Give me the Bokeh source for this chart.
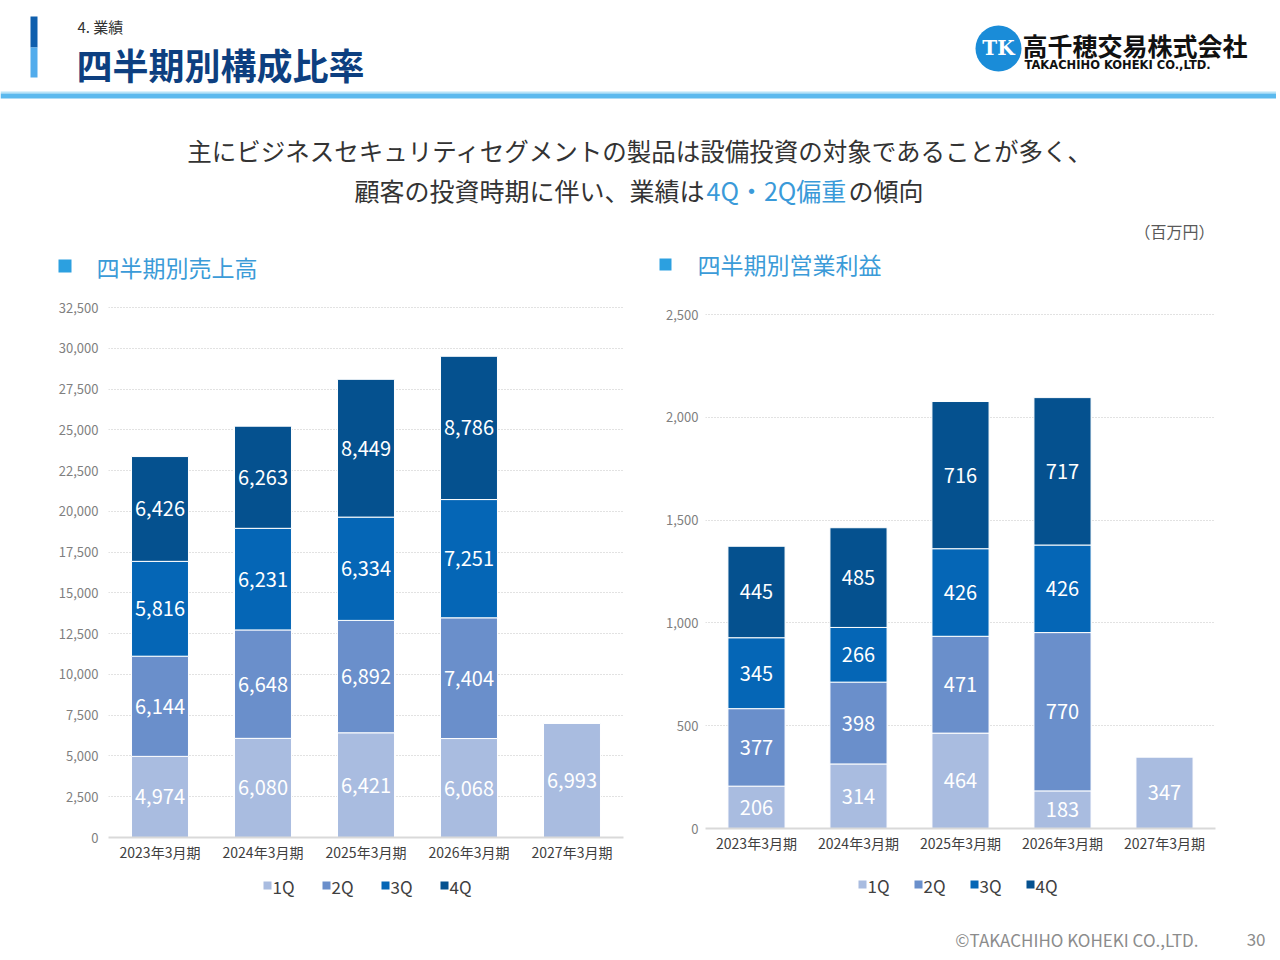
import math
from bokeh.plotting import figure
from bokeh.models import Range1d, FactorRange, ColumnDataSource, NumeralTickFormatter, SingleIntervalTicker
from bokeh.layouts import column, row
from bokeh.core.properties import value
from bokeh.embed import file_html
from bokeh.resources import INLINE

FONT = "Noto Sans CJK JP"
nan = float("nan")
W = 1276

# data
periods = ["2023年3月期", "2024年3月期", "2025年3月期", "2026年3月期", "2027年3月期"]
quarters = ["1Q", "2Q", "3Q", "4Q"]
sales_1q = [4974, 6080, 6421, 6068, 6993]
sales_2q = [6144, 6648, 6892, 7404, nan]
sales_3q = [5816, 6231, 6334, 7251, nan]
sales_4q = [6426, 6263, 8449, 8786, nan]
op_1q = [206, 314, 464, 183, 347]
op_2q = [377, 398, 471, 770, nan]
op_3q = [345, 266, 426, 426, nan]
op_4q = [445, 485, 716, 717, nan]
colors = ["#a9bce0", "#6a8fcb", "#0566b6", "#05518f"]


def make_chart(series, y_end, tick, width, height, left, right, bar_w, y_standoff):
    p = figure(width=width, height=height,
               x_range=FactorRange(factors=periods, range_padding=0),
               y_range=Range1d(0, y_end),
               output_backend="svg", toolbar_location=None,
               min_border_left=left, min_border_right=right,
               min_border_top=19, min_border_bottom=30)
    p.outline_line_color = None
    data = {"period": periods}
    for q, s in zip(quarters, series):
        data[q] = s
    p.vbar_stack(quarters, x="period", width=bar_w, color=colors,
                 line_color="white", line_width=1, source=ColumnDataSource(data))

    # segment labels
    lx, ly, lt = [], [], []
    for i, per in enumerate(periods):
        base = 0
        for s in series:
            v = s[i]
            if math.isnan(v):
                continue
            lx.append(per)
            ly.append(base + v / 2)
            lt.append(f"{int(v):,}")
            base += v
    p.text(x="x", y="y", text="t", source=ColumnDataSource(dict(x=lx, y=ly, t=lt)),
           text_align="center", text_baseline="middle", text_color="white",
           text_font=value(FONT), text_font_size="20px")

    p.xgrid.visible = False
    p.ygrid.grid_line_color = "#c4c4c4"
    p.ygrid.grid_line_dash = "1 2"
    p.yaxis.ticker = SingleIntervalTicker(interval=tick)
    p.yaxis.formatter = NumeralTickFormatter(format="0,0")
    p.yaxis.axis_line_color = None
    p.yaxis.major_tick_line_color = None
    p.yaxis.minor_tick_line_color = None
    p.yaxis.major_tick_out = 0
    p.yaxis.minor_tick_out = 0
    p.yaxis.major_label_standoff = y_standoff
    p.yaxis.major_label_text_font = FONT
    p.yaxis.major_label_text_font_size = "13px"
    p.yaxis.major_label_text_color = "#7f7f7f"
    p.xaxis.axis_line_color = "#d9d9d9"
    p.xaxis.axis_line_width = 2
    p.xaxis.major_tick_line_color = None
    p.xaxis.minor_tick_line_color = None
    p.xaxis.major_tick_out = 0
    p.xaxis.minor_tick_out = 0
    p.xaxis.major_label_standoff = 4
    p.xaxis.major_label_text_font = FONT
    p.xaxis.major_label_text_font_size = "14px"
    p.xaxis.major_label_text_color = "#404040"
    return p


left_chart = make_chart([sales_1q, sales_2q, sales_3q, sales_4q], 32684, 2500,
                        640, 582, 108, 17, 0.553, 10)
right_chart = make_chart([op_1q, op_2q, op_3q, op_4q], 2549, 500,
                         W - 640, 573, 65, W - 640 - 575, 0.56, 7)


def canvas(height, y0, y1):
    c = figure(width=W, height=height, x_range=Range1d(0, W), y_range=Range1d(y1, y0),
               output_backend="svg", toolbar_location=None, min_border=0,
               x_axis_location=None, y_axis_location=None)
    c.grid.visible = False
    c.outline_line_color = None
    return c


# header (page pixel coordinates, y downwards)
h = canvas(285, 0, 285)
h.quad(left=[30, 30], right=[37, 37], top=[16, 47], bottom=[47, 77],
       color=["#0f5fad", "#52acec"], line_color=None)
h.quad(left=[0, 0], right=[W, W], top=[91, 93], bottom=[93, 98],
       color=["#b8e3f8", "#5bb9ee"], line_color=None)
h.text(x=[77], y=[26], text=["4. 業績"], text_font=value(FONT), text_font_size="15px",
       text_color="#333333", text_baseline="middle")
h.text(x=[76], y=[63], text=["四半期別構成比率"], text_font=value(FONT),
       text_font_size="36px", text_font_style="bold", text_color="#0d3f80",
       text_baseline="middle")
# logo
h.scatter(x=[998], y=[48], size=46, marker="circle", color="#1a8cd8", line_color=None)
h.text(x=[998], y=[47], text=["TK"], text_font=value("DejaVu Serif"), text_font_size="20px",
       text_font_style="bold", text_color="white", text_align="center", text_baseline="middle")
h.text(x=[1022], y=[44], text=["高千穂交易株式会社"], text_font=value(FONT),
       text_font_size="25px", text_font_style="bold", text_color="#111111",
       text_baseline="middle")
h.text(x=[1024], y=[64], text=["TAKACHIHO KOHEKI CO.,LTD."], text_font=value("DejaVu Sans"),
       text_font_size="11.5px", text_font_style="bold", text_color="#111111",
       text_baseline="middle")
# message
h.text(x=[640], y=[150], text=["主にビジネスセキュリティセグメントの製品は設備投資の対象であることが多く、"],
       text_font=value(FONT), text_font_size="24.5px", text_color="#333333",
       text_align="center", text_baseline="middle")
h.text(x=[704], y=[189], text=["顧客の投資時期に伴い、業績は"], text_font=value(FONT),
       text_font_size="25px", text_color="#333333", text_align="right", text_baseline="middle")
h.text(x=[706], y=[189], text=["4Q・2Q偏重"], text_font=value(FONT),
       text_font_size="25px", text_color="#3a9ad9", text_baseline="middle")
h.text(x=[848], y=[189], text=["の傾向"], text_font=value(FONT),
       text_font_size="25px", text_color="#333333", text_baseline="middle")
h.text(x=[1214], y=[230], text=["（百万円）"], text_font=value(FONT), text_font_size="16px",
       text_color="#595959", text_align="right", text_baseline="middle")
# section titles
h.quad(left=[58, 659], right=[71, 671], top=[259, 258], bottom=[272, 270],
       color="#2ca0e0", line_color=None)
h.text(x=[96, 697], y=[266, 263], text=["四半期別売上高", "四半期別営業利益"],
       text_font=value(FONT), text_font_size="23px", text_color="#3b9bd8",
       text_baseline="middle")

# legends + footer
f = canvas(89, 867, 956)
for x0, pitch, y in [(263, 59, 885), (858, 56, 884)]:
    xs = [x0 + i * pitch for i in range(len(quarters))]
    f.scatter(x=[x + 4 for x in xs], y=[y] * len(xs), marker="square", size=8,
              color=colors, line_color=None)
    f.text(x=[x + 9 for x in xs], y=[y + 1] * len(xs), text=quarters, text_font=value(FONT),
           text_font_size="17px", text_color="#404040", text_baseline="middle")
f.text(x=[1198, 1265], y=[939, 939], text=["©TAKACHIHO KOHEKI CO.,LTD.", "30"],
       text_font=value(FONT), text_font_size="17px", text_color="#8c8c8c",
       text_align="right", text_baseline="middle")

page = column(h, row(left_chart, right_chart), f)
open("out.html", "w").write(file_html(page, INLINE))
